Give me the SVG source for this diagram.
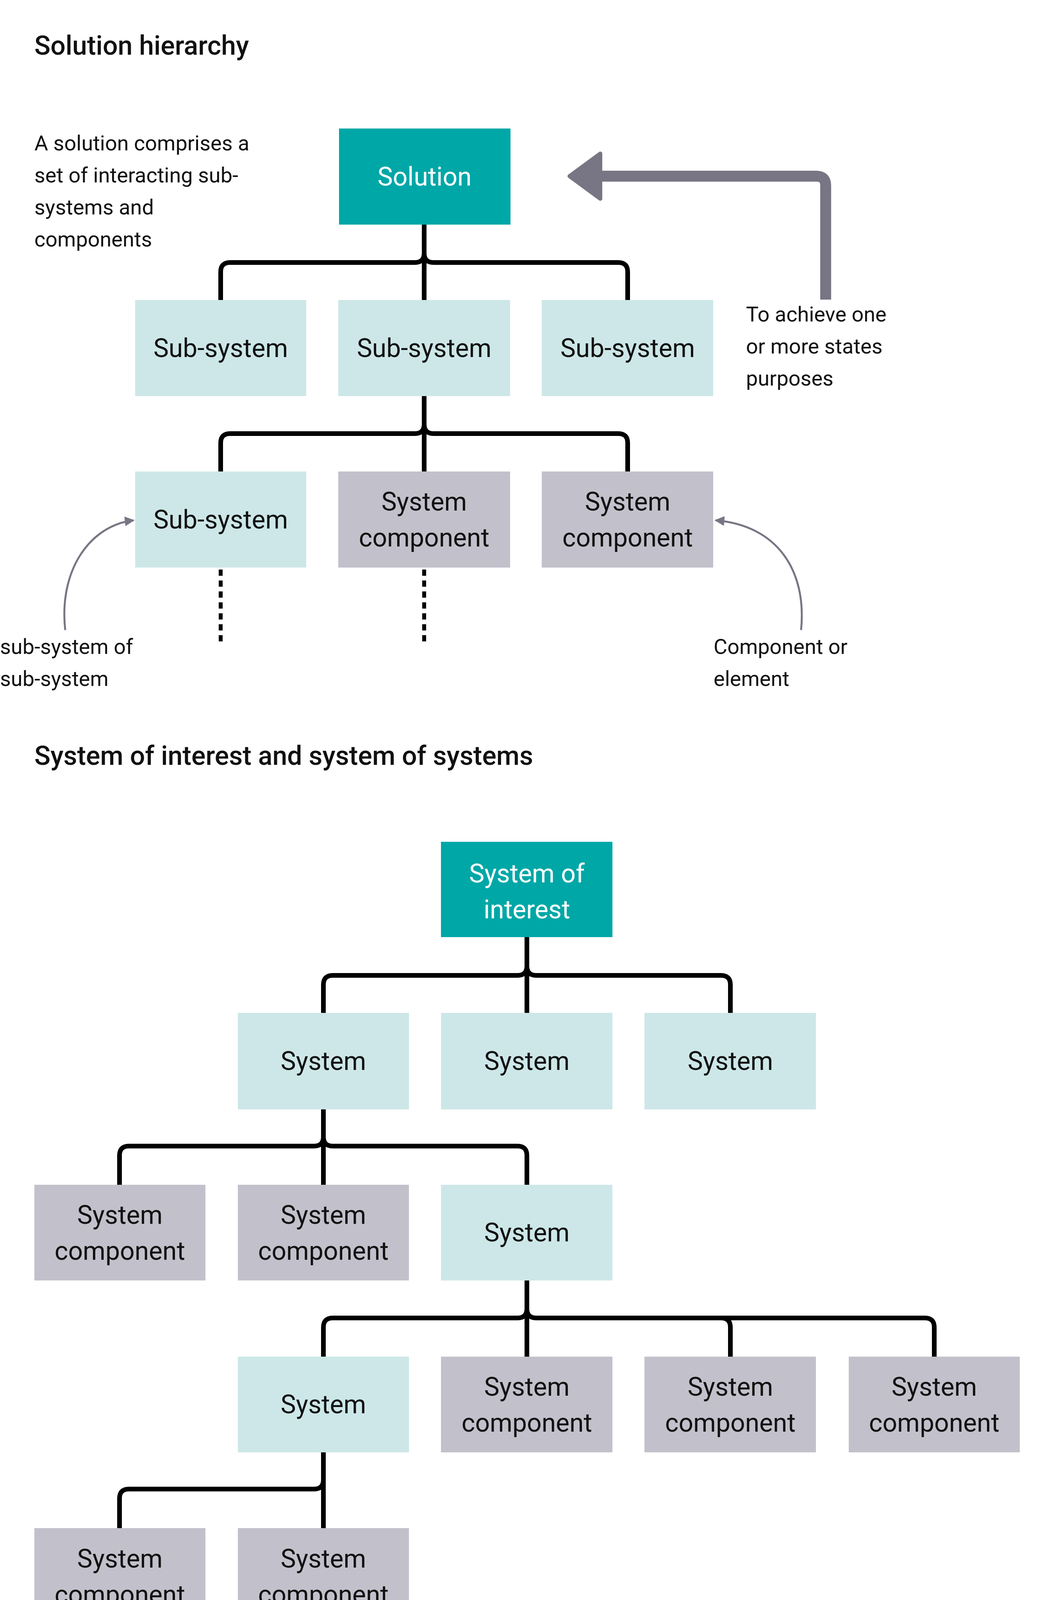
<svg xmlns="http://www.w3.org/2000/svg" width="2696" height="4248" viewBox="0 0 2696 4248">
<style>
text{font-family:Roboto,"Liberation Sans",sans-serif;fill:#111}
.t{font-size:68px;font-weight:500}
.n{font-size:54px}
.b{font-size:66px;text-anchor:middle}
.w{fill:#fff}
.teal{fill:#00A7A7}.lt{fill:#CDE7E8}.gr{fill:#C2C1CB}
.c{fill:none;stroke:#000;stroke-width:12}
.d{fill:none;stroke:#000;stroke-width:10;stroke-dasharray:16 12}
.cv{fill:none;stroke:#787584;stroke-width:5}
</style>
<defs>
<marker id="ah" viewBox="0 0 10 10" refX="9" refY="5" markerWidth="5" markerHeight="5" orient="auto"><path d="M0,0 L10,5 L0,10 z" fill="#787584"/></marker>
</defs>
<rect width="2696" height="4248" fill="#fff"/>
<text class="t" x="88" y="140">Solution hierarchy</text>
<g id="note1"><text class="n" x="88" y="385">A solution comprises a</text><text class="n" x="88" y="467">set of interacting sub-</text><text class="n" x="88" y="549">systems and</text><text class="n" x="88" y="631">components</text></g>
<g id="note2"><text class="n" x="1910" y="823">To achieve one</text><text class="n" x="1910" y="905">or more states</text><text class="n" x="1910" y="987">purposes</text></g>
<g id="note3"><text class="n" x="0" y="1674">sub-system of</text><text class="n" x="0" y="1756">sub-system</text></g>
<g id="note4"><text class="n" x="1827" y="1674">Component or</text><text class="n" x="1827" y="1756">element</text></g>
<g id="connectors">
<path class="c" d="M1086,574 V648 Q1086,672 1062,672 H589 Q565,672 565,696 V768"/>
<path class="c" d="M1086,574 V768"/>
<path class="c" d="M1086,648 Q1086,672 1110,672 H1583 Q1607,672 1607,696 V768"/>
<path class="c" d="M1086,1014 V1086 Q1086,1110 1062,1110 H589 Q565,1110 565,1134 V1207"/>
<path class="c" d="M1086,1014 V1207"/>
<path class="c" d="M1086,1086 Q1086,1110 1110,1110 H1583 Q1607,1110 1607,1134 V1207"/>
<path class="d" d="M565,1458 V1645"/>
<path class="d" d="M1086,1458 V1645"/>
<path d="M2114,767 V475 Q2114,451 2090,451 H1530" fill="none" stroke="#787584" stroke-width="28"/>
<path d="M1458,451 L1537,393 L1537,509 z" fill="#787584" stroke="#787584" stroke-width="10" stroke-linejoin="round"/>
<path class="cv" marker-end="url(#ah)" d="M167,1613 C150,1460 230,1345 342,1332"/>
<path class="cv" marker-end="url(#ah)" d="M2051,1613 C2066,1460 1990,1345 1832,1332"/>
<path class="c" d="M1349,2399 V2473 Q1349,2497 1325,2497 H852 Q828,2497 828,2521 V2593"/>
<path class="c" d="M1349,2399 V2593"/>
<path class="c" d="M1349,2473 Q1349,2497 1373,2497 H1846 Q1870,2497 1870,2521 V2593"/>
<path class="c" d="M828,2840 V2910 Q828,2934 804,2934 H330 Q306,2934 306,2958 V3033"/>
<path class="c" d="M828,2840 V3033"/>
<path class="c" d="M828,2910 Q828,2934 852,2934 H1325 Q1349,2934 1349,2958 V3033"/>
<path class="c" d="M1349,3278 V3350 Q1349,3374 1325,3374 H852 Q828,3374 828,3398 V3473"/>
<path class="c" d="M1349,3278 V3473"/>
<path class="c" d="M1349,3350 Q1349,3374 1373,3374 H2368 Q2392,3374 2392,3398 V3473"/>
<path class="c" d="M1846,3374 Q1870,3374 1870,3398 V3473"/>
<path class="c" d="M828,3718 V3788 Q828,3812 804,3812 H330 Q306,3812 306,3836 V3912"/>
<path class="c" d="M828,3718 V3912"/>
</g>
<g id="solution"><rect class="teal" x="868" y="329" width="439" height="246"/><text class="b w" x="1087" y="475">Solution</text></g>
<g id="ss1"><rect class="lt" x="346" y="768" width="438" height="246"/><text class="b" x="565" y="914">Sub-system</text></g>
<g id="ss2"><rect class="lt" x="866" y="768" width="440" height="246"/><text class="b" x="1086" y="914">Sub-system</text></g>
<g id="ss3"><rect class="lt" x="1387" y="768" width="439" height="246"/><text class="b" x="1607" y="914">Sub-system</text></g>
<g id="ss4"><rect class="lt" x="346" y="1207" width="438" height="246"/><text class="b" x="565" y="1353">Sub-system</text></g>
<g id="sc1"><rect class="gr" x="866" y="1207" width="440" height="246"/><text class="b" x="1086" y="1307">System</text><text class="b" x="1086" y="1399">component</text></g>
<g id="sc2"><rect class="gr" x="1387" y="1207" width="439" height="246"/><text class="b" x="1607" y="1307">System</text><text class="b" x="1607" y="1399">component</text></g>
<text class="t" x="88" y="1958">System of interest and system of systems</text>
<g id="soi"><rect class="teal" x="1129" y="2155" width="439" height="244"/><text class="b w" x="1349" y="2259">System of</text><text class="b w" x="1349" y="2351">interest</text></g>
<g id="s1"><rect class="lt" x="609" y="2593" width="438" height="247"/><text class="b" x="828" y="2739">System</text></g>
<g id="s2"><rect class="lt" x="1129" y="2593" width="439" height="247"/><text class="b" x="1349" y="2739">System</text></g>
<g id="s3"><rect class="lt" x="1650" y="2593" width="439" height="247"/><text class="b" x="1870" y="2739">System</text></g>
<g id="c1"><rect class="gr" x="88" y="3033" width="438" height="245"/><text class="b" x="307" y="3133">System</text><text class="b" x="307" y="3225">component</text></g>
<g id="c2"><rect class="gr" x="609" y="3033" width="438" height="245"/><text class="b" x="828" y="3133">System</text><text class="b" x="828" y="3225">component</text></g>
<g id="s4"><rect class="lt" x="1129" y="3033" width="439" height="245"/><text class="b" x="1349" y="3178">System</text></g>
<g id="s5"><rect class="lt" x="609" y="3473" width="438" height="245"/><text class="b" x="828" y="3618">System</text></g>
<g id="c3"><rect class="gr" x="1129" y="3473" width="439" height="245"/><text class="b" x="1349" y="3573">System</text><text class="b" x="1349" y="3665">component</text></g>
<g id="c4"><rect class="gr" x="1650" y="3473" width="439" height="245"/><text class="b" x="1870" y="3573">System</text><text class="b" x="1870" y="3665">component</text></g>
<g id="c5"><rect class="gr" x="2173" y="3473" width="438" height="245"/><text class="b" x="2392" y="3573">System</text><text class="b" x="2392" y="3665">component</text></g>
<g id="c6"><rect class="gr" x="88" y="3912" width="438" height="246"/><text class="b" x="307" y="4013">System</text><text class="b" x="307" y="4105">component</text></g>
<g id="c7"><rect class="gr" x="609" y="3912" width="438" height="246"/><text class="b" x="828" y="4013">System</text><text class="b" x="828" y="4105">component</text></g>
</svg>
